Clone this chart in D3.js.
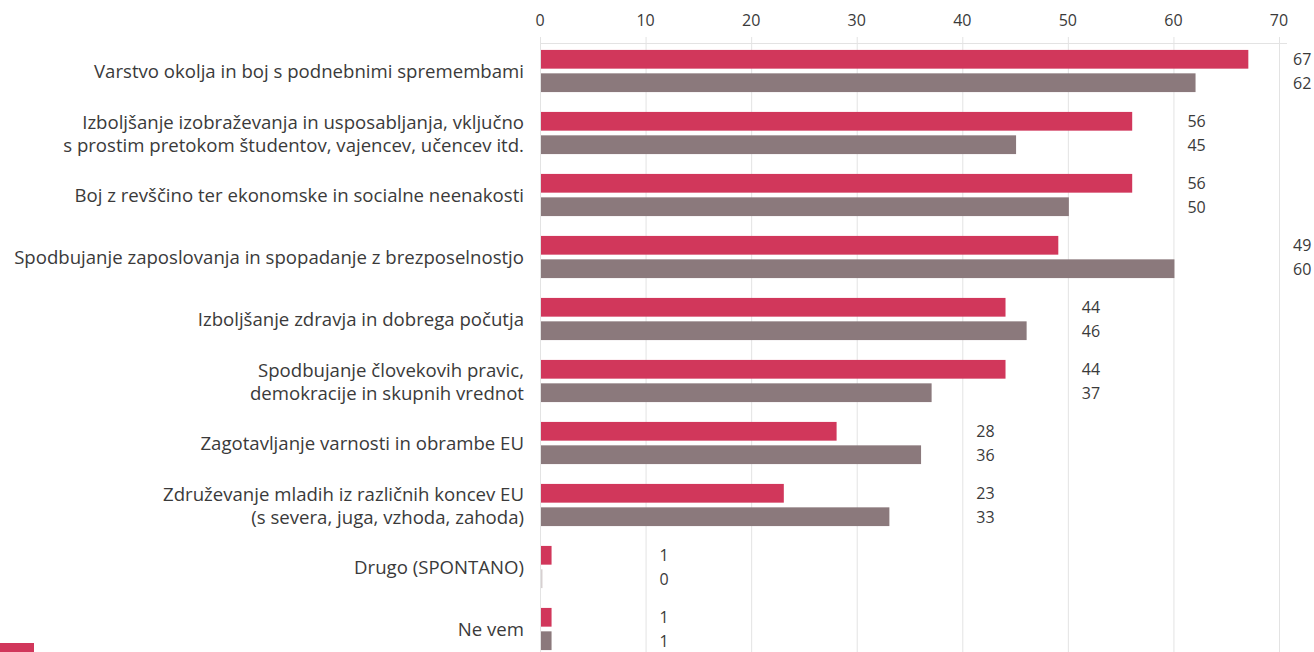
<!DOCTYPE html>
<html>
<head>
<meta charset="utf-8">
<script src="https://cdn.jsdelivr.net/npm/d3@7"></script>
<style>
  body { margin: 0; background: #fff; overflow: hidden; }
  svg { display: block; font-family: "Open Sans", sans-serif; }
  .grid line { stroke: #e3e3e3; stroke-width: 1; }
  .cat { fill: #3a3a3a; font-size: 18.6px; }
  .val { fill: #3a3a3a; font-size: 16px; }
  .tick-label { fill: #3a3a3a; font-size: 16px; }
</style>
</head>
<body>
<div class="chart"></div>
<script>

//////////
// DATA //
//////////

var categories = [
    ["Varstvo okolja in boj s podnebnimi spremembami"],
    ["Izboljšanje izobraževanja in usposabljanja, vključno", "s prostim pretokom študentov, vajencev, učencev itd."],
    ["Boj z revščino ter ekonomske in socialne neenakosti"],
    ["Spodbujanje zaposlovanja in spopadanje z brezposelnostjo"],
    ["Izboljšanje zdravja in dobrega počutja"],
    ["Spodbujanje človekovih pravic,", "demokracije in skupnih vrednot"],
    ["Zagotavljanje varnosti in obrambe EU"],
    ["Združevanje mladih iz različnih koncev EU", "(s severa, juga, vzhoda, zahoda)"],
    ["Drugo (SPONTANO)"],
    ["Ne vem"]
];

var series = ["s1", "s2"];
var seriesColors = ["#d1375b", "#8b797c"];

var values1 = [67, 56, 56, 49, 44, 44, 28, 23, 1, 1];
var values2 = [62, 45, 50, 60, 46, 37, 36, 33, 0, 1];

var xTicks = [0, 10, 20, 30, 40, 50, 60, 70];

////////////////
// DIMENSIONS //
////////////////

var w = 1314,
    h = 652;

var svg = d3.select('.chart')
    .append('svg')
    .attr('width', w)
    .attr('height', h);

var rows = categories.map(function(c, i) {
    return { id: i, label: c, v: [values1[i], values2[i]] };
});

////////////
// SCALES //
////////////

var xScale = d3.scaleLinear()
    .domain([0, 70])
    .range([540, 1279]);

var yScale = d3.scaleBand()
    .domain(rows.map(function(d) { return d.id; }))
    .range([40, 660])
    .paddingInner(0.32)
    .paddingOuter(0.16);

var ySub = d3.scaleBand()
    .domain(series)
    .range([0, yScale.bandwidth()])
    .paddingInner(0.2);

//////////
// GRID //
//////////

var grid = svg.append('g').attr('class', 'grid');

grid.selectAll('.vline')
    .data(xTicks)
    .enter()
    .append('line')
    .attr('x1', function(d) { return xScale(d) + 0.5; })
    .attr('x2', function(d) { return xScale(d) + 0.5; })
    .attr('y1', 37)
    .attr('y2', h);

grid.append('line')
    .attr('x1', xScale(0))
    .attr('x2', xScale(70) + 8)
    .attr('y1', 43.5)
    .attr('y2', 43.5);

svg.selectAll('.tick-label')
    .data(xTicks)
    .enter()
    .append('text')
    .attr('class', 'tick-label')
    .attr('x', function(d) { return xScale(d); })
    .attr('y', 20)
    .attr('text-anchor', 'middle')
    .attr('dominant-baseline', 'central')
    .text(function(d) { return d; });

//////////
// BARS //
//////////

var group = svg.selectAll('.group')
    .data(rows)
    .enter()
    .append('g')
    .attr('class', 'group')
    .attr('transform', function(d) { return 'translate(0,' + yScale(d.id) + ')'; });

group.selectAll('rect')
    .data(function(d) { return d.v.map(function(v, i) { return { key: series[i], value: v, i: i }; }); })
    .enter()
    .append('rect')
    .attr('x', xScale(0) + 1)
    .attr('y', function(d) { return ySub(d.key); })
    .attr('width', function(d) { return Math.max(1.5, xScale(d.value) - xScale(0)); })
    .attr('height', ySub.bandwidth())
    .style('fill', function(d) { return seriesColors[d.i]; })
    .style('opacity', function(d) { return d.value === 0 ? 0.35 : 1; });

// value labels sit past the next gridline
group.each(function(d) {
    var labelX = xScale(Math.floor(d3.max(d.v) / 10) * 10 + 10) + 14;
    d3.select(this).selectAll('.val')
        .data(d.v.map(function(v, i) { return { key: series[i], value: v }; }))
        .enter()
        .append('text')
        .attr('class', 'val')
        .attr('x', labelX)
        .attr('y', function(e) { return ySub(e.key) + ySub.bandwidth() / 2; })
        .attr('dominant-baseline', 'central')
        .text(function(e) { return e.value; });
});

// category labels
group.each(function(d) {
    var n = d.label.length,
        mid = yScale.bandwidth() / 2;
    d3.select(this).selectAll('.cat')
        .data(d.label)
        .enter()
        .append('text')
        .attr('class', 'cat')
        .attr('x', 524)
        .attr('y', function(t, i) { return mid + (i - (n - 1) / 2) * 23; })
        .attr('text-anchor', 'end')
        .attr('dominant-baseline', 'central')
        .text(function(t) { return t; });
});

////////////
// LEGEND //
////////////

svg.selectAll('.legend')
    .data(series)
    .enter()
    .append('rect')
    .attr('class', 'legend')
    .attr('x', 0)
    .attr('y', function(d, i) { return 643 + i * 30; })
    .attr('width', 34)
    .attr('height', 20)
    .style('fill', function(d, i) { return seriesColors[i]; });

</script>
</body>
</html>
